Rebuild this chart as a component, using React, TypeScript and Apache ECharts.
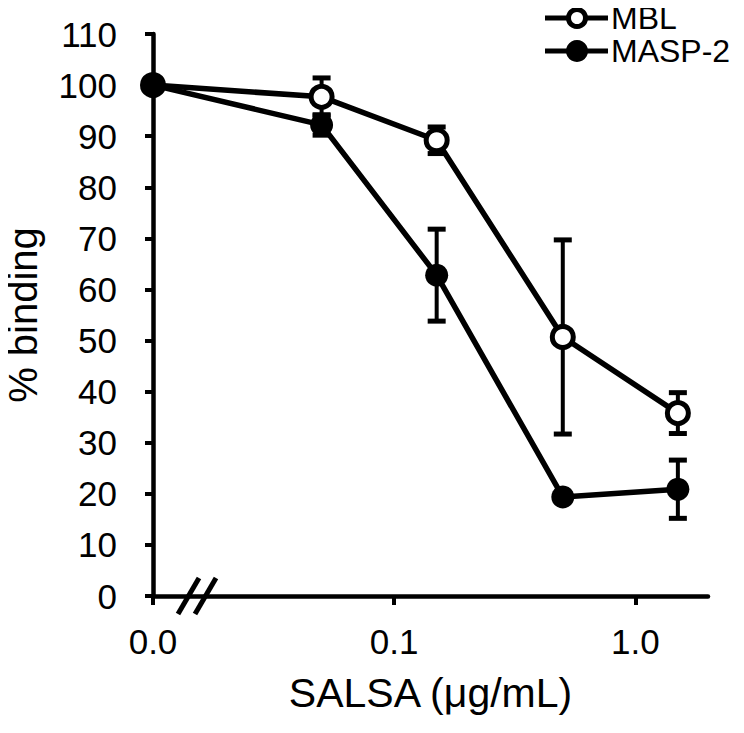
import React, { useEffect, useRef } from "react";
import * as echarts from "echarts";

// SALSA concentration (µg/mL); 0.0 is drawn at 0.01 on the broken log axis
const concentrations = [0.01, 0.05, 0.15, 0.5, 1.5];
const mblMean = [100, 97.7, 89.2, 50.7, 35.8];
const mblErr = [0, 3.7, 2.6, 19, 4];
const maspMean = [100, 92.2, 62.8, 19.4, 20.9];
const maspErr = [0, 2, 9, 0, 5.7];
const xTickValues = [0.01, 0.1, 1];
const xTickLabels = ["0.0", "0.1", "1.0"];
const seriesNames = ["MBL", "MASP-2"];

const FONT = "'Liberation Sans', Arial, sans-serif";
const INK = "#000";

function errRender(params: any, api: any) {
  const x = api.value(0);
  const m = api.value(1);
  const e = api.value(2);
  if (!e) return null;
  const top = api.coord([x, m + e]);
  const bot = api.coord([x, m - e]);
  const half = 9;
  return {
    type: "group",
    children: [
      { type: "line", shape: { x1: top[0], y1: top[1], x2: bot[0], y2: bot[1] }, style: { stroke: INK, lineWidth: 4 } },
      { type: "line", shape: { x1: top[0] - half, y1: top[1], x2: top[0] + half, y2: top[1] }, style: { stroke: INK, lineWidth: 5 } },
      { type: "line", shape: { x1: bot[0] - half, y1: bot[1], x2: bot[0] + half, y2: bot[1] }, style: { stroke: INK, lineWidth: 5 } },
    ],
  };
}

function legendGraphic(): any[] {
  const rows = [
    { name: seriesNames[0], y: 18, fill: "#fff", r: 8.5, bw: 5 },
    { name: seriesNames[1], y: 51, fill: INK, r: 11, bw: 0 },
  ];
  const out: any[] = [];
  rows.forEach((row) => {
    out.push({
      type: "line",
      z: 100,
      shape: { x1: 545, y1: row.y, x2: 608, y2: row.y },
      style: { stroke: INK, lineWidth: 5 },
    });
    out.push({
      type: "circle",
      z: 101,
      shape: { cx: 577, cy: row.y, r: row.r },
      style: { fill: row.fill, stroke: INK, lineWidth: row.bw },
    });
    out.push({
      type: "text",
      z: 101,
      x: 611,
      y: row.y,
      style: {
        text: row.name,
        fill: INK,
        font: `32px ${FONT}`,
        verticalAlign: "middle",
        align: "left",
      },
    });
  });
  return out;
}

export default function App() {
  const ref = useRef<HTMLDivElement>(null);
  useEffect(() => {
    if (!ref.current) return;
    const chart = echarts.init(ref.current, null, { renderer: "svg" });
    const option: any = {
      animation: false,
      backgroundColor: "#fff",
      textStyle: { fontFamily: FONT, color: INK },
      grid: { left: 153, right: 36, top: 34, bottom: 137, containLabel: false, outerBoundsMode: "none" },
      xAxis: {
        type: "log",
        logBase: 10,
        min: 0.01,
        max: 2,
        name: "SALSA (μg/mL)",
        nameLocation: "middle",
        nameGap: 76,
        nameTextStyle: { fontSize: 41, color: INK, fontFamily: FONT },
        axisLine: { lineStyle: { color: INK, width: 4.5 } },
        axisTick: { show: true, length: 9, inside: false, lineStyle: { color: INK, width: 4 }, customValues: xTickValues },
        minorTick: { show: false },
        splitLine: { show: false },
        axisLabel: {
          fontSize: 35,
          color: INK,
          margin: 28,
          customValues: xTickValues,
          formatter: (v: number) => {
            const i = xTickValues.findIndex((t) => Math.abs(Math.log10(t) - Math.log10(v)) < 1e-6);
            return i >= 0 ? xTickLabels[i] : "";
          },
        },
      },
      yAxis: {
        type: "value",
        min: 0,
        max: 110,
        interval: 10,
        name: "% binding",
        nameLocation: "middle",
        nameGap: 110,
        nameTextStyle: { fontSize: 40, color: INK, fontFamily: FONT },
        axisLine: { show: true, lineStyle: { color: INK, width: 4.5 } },
        axisTick: { show: true, length: 8, lineStyle: { color: INK, width: 4 } },
        splitLine: { show: false },
        axisLabel: { fontSize: 35, color: INK, margin: 36 },
      },
      series: [
        {
          name: "MBL-err",
          type: "custom",
          renderItem: errRender,
          data: concentrations.map((c, i) => [c, mblMean[i], mblErr[i]]),
          encode: { x: 0, y: 1 },
          z: 1,
        },
        {
          name: "MASP-2-err",
          type: "custom",
          renderItem: errRender,
          data: concentrations.map((c, i) => [c, maspMean[i], maspErr[i]]),
          encode: { x: 0, y: 1 },
          z: 1,
        },
        {
          name: seriesNames[0],
          type: "line",
          data: concentrations.map((c, i) => [c, mblMean[i]]),
          symbol: "circle",
          symbolSize: 21,
          lineStyle: { color: INK, width: 5.5 },
          itemStyle: { color: "#fff", borderColor: INK, borderWidth: 5 },
          z: 3,
        },
        {
          name: seriesNames[1],
          type: "line",
          data: concentrations.map((c, i) => [c, maspMean[i]]),
          symbol: "circle",
          symbolSize: 23,
          lineStyle: { color: INK, width: 5.5 },
          itemStyle: { color: INK, borderColor: INK, borderWidth: 0 },
          z: 4,
        },
      ],
    };
    chart.setOption(option);
    const o = chart.convertToPixel({ gridIndex: 0 }, [0.01, 0]) as number[];
    const ox = o[0];
    const oy = o[1];
    chart.setOption({
      graphic: [
        {
          type: "line",
          z: 100,
          shape: { x1: ox + 25, y1: oy + 18, x2: ox + 46, y2: oy - 18 },
          style: { stroke: INK, lineWidth: 5 },
        },
        {
          type: "line",
          z: 100,
          shape: { x1: ox + 42, y1: oy + 18, x2: ox + 63, y2: oy - 18 },
          style: { stroke: INK, lineWidth: 5 },
        },
        ...legendGraphic(),
      ],
    });
    return () => chart.dispose();
  }, []);
  return <div ref={ref} style={{ width: 744, height: 733, margin: -8 }} />;
}
